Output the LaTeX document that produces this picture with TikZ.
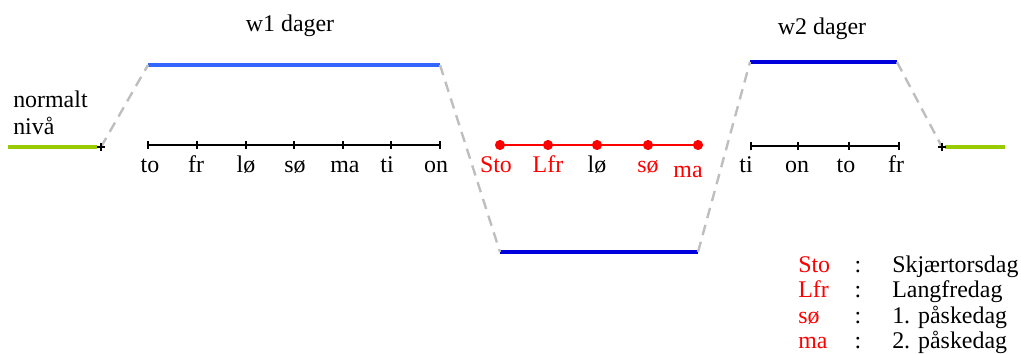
\documentclass[tikz,border=0pt]{standalone}
\usepackage{fontspec}
\setmainfont{Liberation Serif}
\definecolor{grnniva}{RGB}{153,204,0}
\definecolor{blaa}{RGB}{51,102,255}
\definecolor{moerkblaa}{RGB}{0,0,221}
\definecolor{graa}{RGB}{190,190,190}
\begin{document}
\begin{tikzpicture}[x=0.025cm, y=-0.025cm, font=\fontsize{17}{20}\selectfont, line join=round, line cap=butt]
	\tikzset{niva/.style={draw=grnniva, line width=2.4pt},
		nivaa/.style={line width=2.2pt},
		overgang/.style={draw=graa, line width=1.7pt, dash pattern=on 7.5pt off 5pt},
		akse/.style={draw=black, line width=1.2pt},
		dag/.style={anchor=base}}
	\useasboundingbox (0,0) rectangle (1021,354);
	% nivåer
	\coordinate (n1) at (8,147); \coordinate (n2) at (97,147);
	\coordinate (t1) at (101,147);
	\coordinate (a1) at (148,65); \coordinate (a2) at (440,65);
	\coordinate (b1) at (500,252); \coordinate (b2) at (698,252);
	\coordinate (c1) at (750,62); \coordinate (c2) at (897,62);
	\coordinate (t2) at (942,147);
	\coordinate (n3) at (945,147); \coordinate (n4) at (1005,147);
	\draw[niva] (n1) -- (n2);
	\draw[niva] (n3) -- (n4);
	\draw[nivaa, blaa] (a1) -- (a2);
	\draw[nivaa, moerkblaa] (b1) -- (b2);
	\draw[nivaa, moerkblaa] (c1) -- (c2);
	\draw[overgang] (t1) -- (a1);
	\draw[overgang] (a2) -- (b1);
	\draw[overgang] (b2) -- (c1);
	\draw[overgang] (c2) -- (t2);
	\draw[line width=0.8pt] (t1) ++(0,-4) -- ++(0,8) (t1) ++(-4,0) -- ++(8,0);
	\draw[line width=0.8pt] (t2) ++(0,-4) -- ++(0,8) (t2) ++(-4,0) -- ++(8,0);
	% uke 1
	\draw[akse] (148,145) -- (440,145);
	\foreach \x in {148,197,246,294,343,391,440}
		\draw[line width=0.8pt] (\x,141) -- (\x,149);
	\foreach \x/\d [count=\i] in {150/to,196/fr,246/lø,295/sø,345/ma,387/ti,436/on}
		\node[dag] (u\i) at (\x,173) {\d};
	% påske
	\draw[red, line width=1.2pt] (500,145) -- (698,145);
	\foreach \x in {500,548,597,648,698}
		\fill[red] (\x,145) circle (3.6pt);
	\node[dag, red] (p1) at (496,173) {Sto};
	\node[dag, red] (p2) at (548,173) {Lfr};
	\node[dag] (p3) at (597,173) {lø};
	\node[dag, red] (p4) at (648,173) {sø};
	\node[dag, red] (p5) at (688,178) {ma};
	% uke 2
	\draw[line width=0.8pt] (751,146) -- (798,146);
	\draw[akse] (798,146) -- (899,146);
	\foreach \x in {751,798,849,899}
		\draw[line width=0.8pt] (\x,142) -- (\x,150);
	\foreach \x/\d [count=\i] in {746/ti,797/on,846/to,896/fr}
		\node[dag] (v\i) at (\x,173) {\d};
	% tekster
	\node[dag] (w1) at (290,32) {w1 dager};
	\node[dag] (w2) at (822,35) {w2 dager};
	\node[anchor=base west, inner sep=0pt] (nm1) at (13,108) {normalt};
	\node[anchor=base west, inner sep=0pt] (nm2) at (13,135) {nivå};
	% forklaring
	\foreach \k/\f [count=\i] in {Sto/Skjærtorsdag, Lfr/Langfredag, sø/1. påskedag, ma/2. påskedag}{
		\node[anchor=base west, inner sep=0pt, red] (fk\i) at (798,248+25*\i) {\k};
		\node[anchor=base, inner sep=0pt] (fs\i) at (858,248+25*\i) {:};
		\node[anchor=base west, inner sep=0pt] (ft\i) at (892,248+25*\i) {\f};
	}
\end{tikzpicture}
\end{document}
